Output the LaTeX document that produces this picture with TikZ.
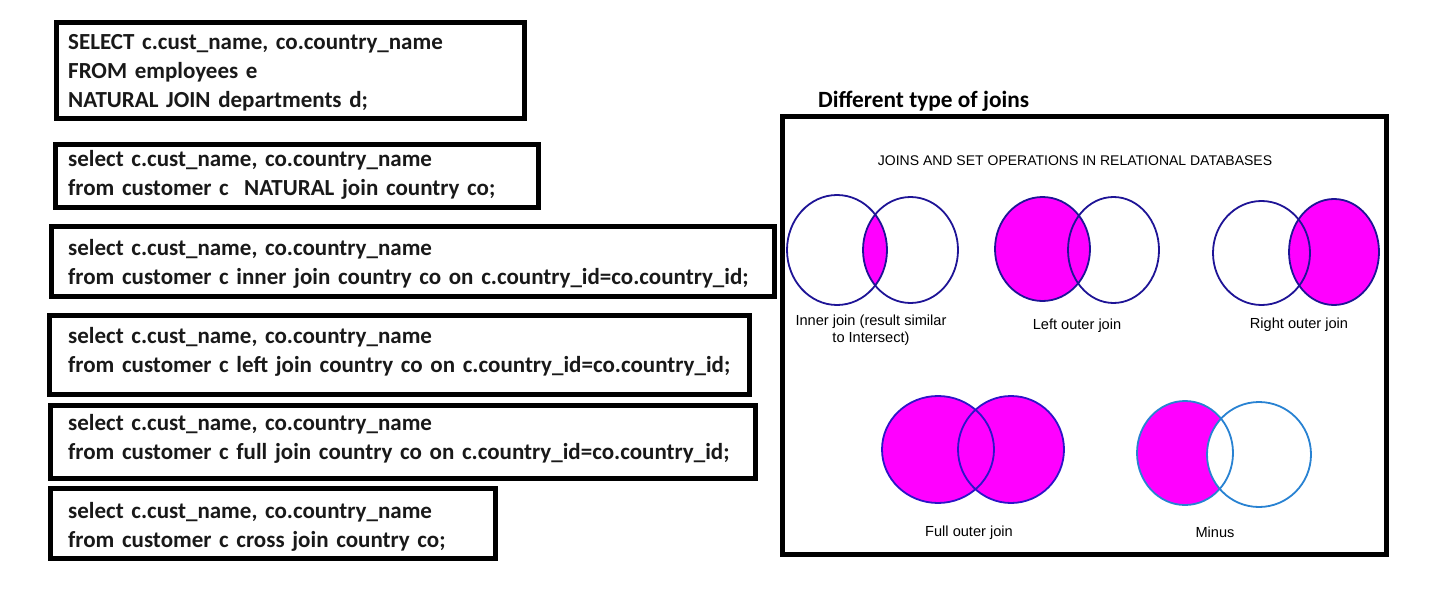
\documentclass[tikz,border=0pt]{standalone}
\usepackage{fontspec}
\newfontfamily\calibri{Carlito}
\newfontfamily\arialfont{Liberation Sans}
\usepackage{tikz}
\usetikzlibrary{positioning}
\definecolor{vennfill}{RGB}{255, 0, 255}
\definecolor{venndark}{RGB}{30, 20, 150}
\definecolor{vennblue}{RGB}{45, 20, 200}
\definecolor{vennlight}{RGB}{40, 130, 210}
\definecolor{querytext}{RGB}{25, 25, 25}
\tikzset{
  queryframe/.style={draw, line width=5pt},
  querytext/.style={anchor=base west, align=left, inner sep=0pt, text width=720pt,
    text=querytext, font=\calibri\bfseries\fontsize{23}{29}\selectfont},
  venn/.style={line width=1.8pt, draw=venndark},
  vennlabel/.style={font=\arialfont\fontsize{14.6}{17}\selectfont, align=center, inner sep=0pt}
}

\begin{document}
\begin{tikzpicture}[x=1pt, y=-1pt]
  \useasboundingbox (0,0) rectangle (1430,591);

  % SQL queries
  \draw[queryframe] (56.5,22.5) rectangle (524.5,118.5);
  \node[querytext] (natjoin) at (68,50)
    {SELECT c.cust\_name, co.country\_name\\FROM employees e\\NATURAL JOIN departments d;};
  \draw[queryframe] (55.5,144.5) rectangle (538.5,207.5);
  \node[querytext] (natq) at (68,167)
    {select c.cust\_name, co.country\_name\\from customer c\ \ NATURAL join country co;};
  \draw[queryframe] (51.5,226.5) rectangle (774.5,296.5);
  \node[querytext] (innerq) at (68,255)
    {select c.cust\_name, co.country\_name\\from customer c inner join country co on c.country\_id=co.country\_id;};
  \draw[queryframe] (49.5,315.5) rectangle (749.5,394.5);
  \node[querytext] (leftq) at (68,343)
    {select c.cust\_name, co.country\_name\\from customer c left join country co on c.country\_id=co.country\_id;};
  \draw[queryframe] (50.5,405.5) rectangle (755.5,478.5);
  \node[querytext] (fullq) at (68,430.5)
    {select c.cust\_name, co.country\_name\\from customer c full join country co on c.country\_id=co.country\_id;};
  \draw[queryframe] (50.5,488.5) rectangle (495.5,558.5);
  \node[querytext] (crossq) at (68,518)
    {select c.cust\_name, co.country\_name\\from customer c cross join country co;};

  % Joins panel
  \node[font=\calibri\bfseries\fontsize{23.3}{28}\selectfont, anchor=base west, inner sep=0pt] (jointitle) at (818,108) {Different type of joins};
  \draw[queryframe] (782.5,116.5) rectangle (1386.5,554.5);
  \node[vennlabel, font=\arialfont\fontsize{14}{17}\selectfont] (venntitle) at (1075,161) {JOINS AND SET OPERATIONS IN RELATIONAL DATABASES};

  % inner join
  \begin{scope}
    \clip (837,250) ellipse [x radius=50pt, y radius=55pt];
    \fill[vennfill] (910.5,250) ellipse [x radius=47.5pt, y radius=53pt];
  \end{scope}
  \draw[venn] (837,250) ellipse [x radius=50pt, y radius=55pt];
  \draw[venn] (910.5,250) ellipse [x radius=47.5pt, y radius=53pt];
  \node[vennlabel] (innerlbl) at (871,330.5) {Inner join (result similar\\to Intersect)};

  % left outer join
  \fill[vennfill] (1042.5,249) ellipse [x radius=47.5pt, y radius=52pt];
  \draw[venn] (1042.5,249) ellipse [x radius=47.5pt, y radius=52pt];
  \draw[venn] (1113.5,250) ellipse [x radius=45.5pt, y radius=53pt];
  \node[vennlabel] (leftlbl) at (1077,326) {Left outer join};

  % right outer join
  \fill[vennfill] (1334,252) ellipse [x radius=45pt, y radius=53pt];
  \draw[venn] (1261.5,253) ellipse [x radius=48.5pt, y radius=52pt];
  \draw[venn] (1334,252) ellipse [x radius=45pt, y radius=53pt];
  \node[vennlabel] (rightlbl) at (1299,325) {Right outer join};

  % full outer join
  \fill[vennfill] (938,449.5) ellipse [x radius=56pt, y radius=53.5pt];
  \fill[vennfill] (1011,449.5) ellipse [x radius=53pt, y radius=53.5pt];
  \draw[venn, draw=vennblue] (938,449.5) ellipse [x radius=56pt, y radius=53.5pt];
  \draw[venn, draw=vennblue] (1011,449.5) ellipse [x radius=53pt, y radius=53.5pt];
  \node[vennlabel] (fulllbl) at (969,533) {Full outer join};

  % minus
  \fill[vennfill] (1185,453) ellipse [x radius=48pt, y radius=52pt];
  \fill[white] (1259,454.5) ellipse [x radius=52pt, y radius=52.5pt];
  \draw[venn, draw=vennlight] (1185,453) ellipse [x radius=48pt, y radius=52pt];
  \draw[venn, draw=vennlight] (1259,454.5) ellipse [x radius=52pt, y radius=52.5pt];
  \node[vennlabel] (minuslbl) at (1215,532) {Minus};
\end{tikzpicture}
\end{document}
